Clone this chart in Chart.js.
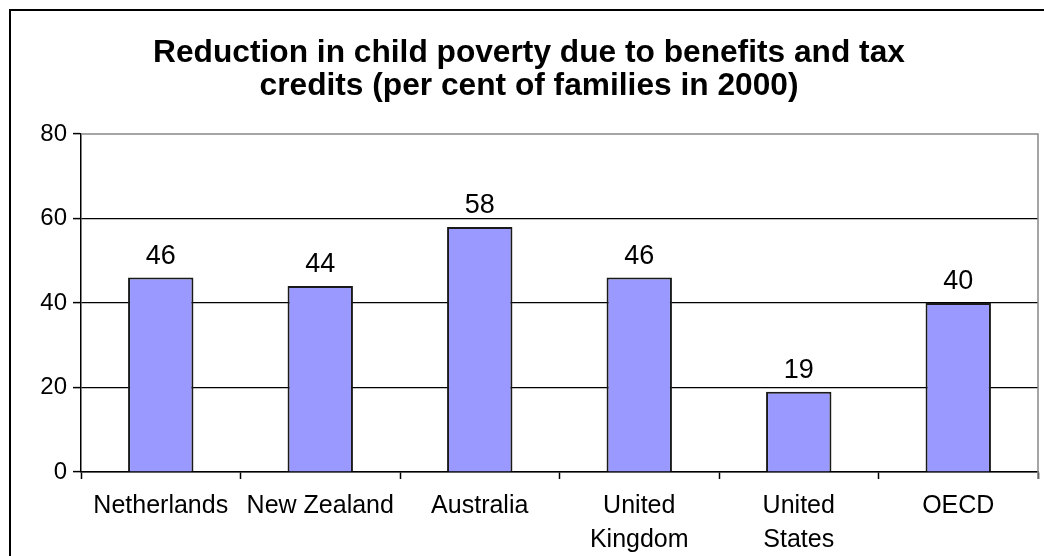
<!DOCTYPE html>
<html>
<head>
<meta charset="utf-8">
<script src="https://cdn.jsdelivr.net/npm/chart.js@4/dist/chart.umd.min.js"></script>
<style>
  html, body { margin: 0; padding: 0; background: #fff; overflow: hidden; }
  #wrap { width: 1044px; height: 556px; position: relative; }
</style>
</head>
<body>
<div id="wrap"><canvas id="chart" width="1044" height="556"></canvas></div>
<script>
const countries = [
  "Netherlands",
  "New Zealand",
  "Australia",
  ["United", "Kingdom"],
  ["United", "States"],
  "OECD",
];
const reduction = [46, 44, 58, 46, 19, 40];
const yTicks = [0, 20, 40, 60, 80];

const font = "'Liberation Sans', Arial, sans-serif";

// white page, outer frame and the grey top/right edge of the plot
const frame = {
  id: "frame",
  beforeDraw(chart) {
    const ctx = chart.ctx;
    ctx.save();
    ctx.fillStyle = "#fff";
    ctx.fillRect(0, 0, chart.width, chart.height);
    ctx.strokeStyle = "#000";
    ctx.lineWidth = 2;
    ctx.strokeRect(10, 10, chart.width + 20, chart.height + 20);
    ctx.restore();
  },
  beforeDatasetsDraw(chart) {
    const { ctx, chartArea } = chart;
    ctx.save();
    ctx.strokeStyle = "#888";
    ctx.lineWidth = 1.5;
    ctx.beginPath();
    ctx.moveTo(chartArea.left, chartArea.top);
    ctx.lineTo(chartArea.right, chartArea.top);
    ctx.lineTo(chartArea.right, chartArea.bottom + 7);
    ctx.stroke();
    ctx.restore();
  },
};

// number above each bar
const barValues = {
  id: "barValues",
  afterDatasetsDraw(chart) {
    const ctx = chart.ctx;
    const meta = chart.getDatasetMeta(0);
    ctx.save();
    ctx.fillStyle = "#000";
    ctx.font = `27px ${font}`;
    ctx.textAlign = "center";
    ctx.textBaseline = "alphabetic";
    meta.data.forEach((bar, i) => {
      ctx.fillText(String(chart.data.datasets[0].data[i]), bar.x, bar.y - 14);
    });
    ctx.restore();
  },
};

new Chart(document.getElementById("chart"), {
  type: "bar",
  data: {
    labels: countries,
    datasets: [
      {
        data: reduction,
        backgroundColor: "#9999ff",
        borderColor: "#1a1a1a",
        borderWidth: 2,
        barPercentage: 0.41,
        categoryPercentage: 1,
      },
    ],
  },
  options: {
    responsive: false,
    animation: false,
    layout: { padding: { left: 20, right: 6, top: 0, bottom: 0 } },
    plugins: {
      legend: { display: false },
      tooltip: { enabled: false },
      title: {
        display: true,
        text: [
          "Reduction in child poverty due to benefits and tax",
          "credits (per cent of families in 2000)",
        ],
        color: "#000",
        font: { family: font, size: 31.7, weight: "bold", lineHeight: 1.04 },
        padding: { top: 37, bottom: 31 },
      },
    },
    scales: {
      x: {
        afterFit: (scale) => { scale.height = 84; },
        grid: {
          drawOnChartArea: false,
          drawTicks: true,
          tickLength: 7,
          tickColor: "#000",
          tickWidth: 1.5,
        },
        border: { color: "#000", width: 1.5 },
        ticks: {
          color: "#000",
          padding: 10,
          maxRotation: 0,
          autoSkip: false,
          font: { family: font, size: 25, lineHeight: 1.36 },
        },
      },
      y: {
        min: 0,
        max: 80,
        afterFit: (scale) => { scale.width = 61; },
        afterBuildTicks: (scale) => {
          scale.ticks = yTicks.map((v) => ({ value: v }));
        },
        grid: {
          color: (c) => (c.tick && c.tick.value === 80 ? "rgba(0,0,0,0)" : "#000"),
          lineWidth: 1.2,
          tickLength: 8,
          tickColor: "#000",
          tickWidth: 1.5,
        },
        border: { color: "#000", width: 1.5 },
        ticks: {
          color: "#000",
          padding: 6,
          font: { family: font, size: 24 },
        },
      },
    },
  },
  plugins: [frame, barValues],
});
</script>
</body>
</html>
